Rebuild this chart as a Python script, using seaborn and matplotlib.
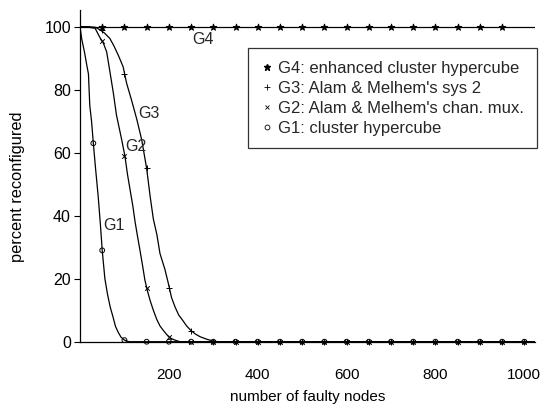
import matplotlib
matplotlib.use("Agg")
import matplotlib.pyplot as plt
import seaborn as sns
import pandas as pd
from matplotlib.lines import Line2D

# ---- data ----
g1_x = [0, 4, 10, 15, 19, 22, 26, 30, 35, 41, 46, 50, 56, 62, 68, 74, 80, 86, 92, 100, 110, 1024]
g1_y = [100, 96, 92, 88, 85, 75, 70, 63, 55, 46, 37, 29, 20, 15, 11, 8, 4.8, 3, 1.5, 0.5, 0, 0]

g2_x = [0, 10, 20, 34, 45, 52, 60, 67, 75, 82, 88, 94, 101, 107, 113, 119, 124, 130, 135, 141,
        146, 152, 158, 165, 173, 180, 188, 195, 203, 210, 218, 225, 1024]
g2_y = [100, 100, 99.8, 99.5, 96.5, 95, 92, 86, 79, 72, 68, 64, 59, 53, 48, 43, 38, 33, 29, 24,
        19.6, 16, 13, 10, 7, 5, 3.5, 2.3, 1.2, 0.7, 0.3, 0, 0]

g3_x = [0, 20, 35, 45, 55, 67, 76, 86, 97, 105, 116, 128, 139, 150, 158, 165, 173, 180, 191, 198,
        206, 214, 222, 230, 240, 250, 260, 270, 285, 297, 310, 1024]
g3_y = [100, 100, 99.8, 99, 98, 96.3, 94, 91, 87.3, 82, 76.7, 70.5, 64, 55, 46, 39, 34, 28, 23, 19,
        14, 11, 8.5, 7, 5, 3.5, 2.4, 1.6, 0.8, 0.3, 0, 0]

g4_x = [0, 1024]
g4_y = [100, 100]

# marker positions
g4_mx = [50, 100, 150, 200, 250, 300, 350, 400, 450, 500, 550, 600, 650, 700, 750, 800, 850, 900, 950]
g4_my = [100] * len(g4_mx)

g3_mx = [50, 100, 150, 200, 250, 300, 350, 400, 450, 500, 550, 600, 650, 700, 750, 800, 850, 900, 950, 1000]
g3_my = [99, 85, 55, 17, 3.5, 0, 0, 0, 0, 0, 0, 0, 0, 0, 0, 0, 0, 0, 0, 0]

g2_mx = [50, 100, 150, 200, 250, 300, 350, 400, 450, 500, 550, 600, 650, 700, 750, 800, 850, 900, 950, 1000]
g2_my = [95.5, 59, 17, 1.5, 0, 0, 0, 0, 0, 0, 0, 0, 0, 0, 0, 0, 0, 0, 0, 0]

g1_mx = [30, 50, 100, 150, 200, 250, 300, 350, 400, 450, 500, 550, 600, 650, 700, 750, 800, 850, 900, 950, 1000]
g1_my = [63, 29, 0.5, 0, 0, 0, 0, 0, 0, 0, 0, 0, 0, 0, 0, 0, 0, 0, 0, 0, 0]

labels = ["G4: enhanced cluster hypercube", "G3: Alam & Melhem's sys 2",
          "G2: Alam & Melhem's chan. mux.", "G1: cluster hypercube"]
x_ticks = [200, 400, 600, 800, 1000]
y_ticks = [0, 20, 40, 60, 80, 100]

sns.set_style("ticks")
plt.rcParams['font.family'] = ['Liberation Sans', 'DejaVu Sans']

fig = plt.figure(figsize=(5.55, 4.04), dpi=100)
ax = fig.add_axes([80 / 555, (404 - 341.7) / 404, 455 / 555, 331.7 / 404])

curves = [(g4_x, g4_y), (g3_x, g3_y), (g2_x, g2_y), (g1_x, g1_y)]
for cx, cy in curves:
    sns.lineplot(x=cx, y=cy, ax=ax, color="black", lw=0.9, sort=False, estimator=None, zorder=3)

mk = [
    (g4_mx, g4_my, "*", 24, "black", "black"),
    (g3_mx, g3_my, "+", 20, "black", None),
    (g2_mx, g2_my, "x", 11, "black", None),
    (g1_mx, g1_my, "o", 12, "none", "black"),
]
for mx, my, m, s, fc, ec in mk:
    if m in ("+", "x"):
        ax.scatter(mx, my, marker=m, s=s, c="black", linewidths=0.7, zorder=4, clip_on=False)
    else:
        ax.scatter(mx, my, marker=m, s=s, facecolors=fc, edgecolors=ec, linewidths=0.7,
                   zorder=4, clip_on=False)

ax.set_xlim(0, 1024)
ax.set_ylim(0, 105.3)
ax.set_xticks(x_ticks)
ax.set_yticks(y_ticks)
ax.tick_params(axis="x", length=0, pad=19, labelsize=11, colors="black")
ax.tick_params(axis="y", length=4.5, width=0.8, pad=2, labelsize=11.5, colors="black")
for s in ["top", "right"]:
    ax.spines[s].set_visible(False)
for s in ["left", "bottom"]:
    ax.spines[s].set_color("black")
    ax.spines[s].set_linewidth(0.9)

ax.set_xlabel("number of faulty nodes", fontsize=11, labelpad=6, color="black")
ax.set_ylabel("percent reconfigured", fontsize=11.8, color="black")
ax.yaxis.set_label_coords(-0.121, 0.466)

# curve labels
ax.text(253, 96, "G4", fontsize=11.5, va="center", ha="left")
ax.text(131, 72.5, "G3", fontsize=11.5, va="center", ha="left")
ax.text(101, 62, "G2", fontsize=11.5, va="center", ha="left")
ax.text(52, 37, "G1", fontsize=11.5, va="center", ha="left")

handles = [
    Line2D([], [], ls="none", marker="*", ms=5, color="black"),
    Line2D([], [], ls="none", marker="+", ms=5, mew=0.6, color="black"),
    Line2D([], [], ls="none", marker="x", ms=3.5, mew=0.6, color="black"),
    Line2D([], [], ls="none", marker="o", ms=3.5, mew=0.6, mfc="none", color="black"),
]
leg = ax.legend(handles, labels, loc="upper right", bbox_to_anchor=(1.004, 0.885),
                fontsize=12, frameon=True, fancybox=False, edgecolor="black",
                handlelength=0.7, handletextpad=0.35, labelspacing=0.3, borderpad=0.75,
                borderaxespad=0)
leg.get_frame().set_linewidth(0.9)

fig.savefig("out.png", dpi=100)
